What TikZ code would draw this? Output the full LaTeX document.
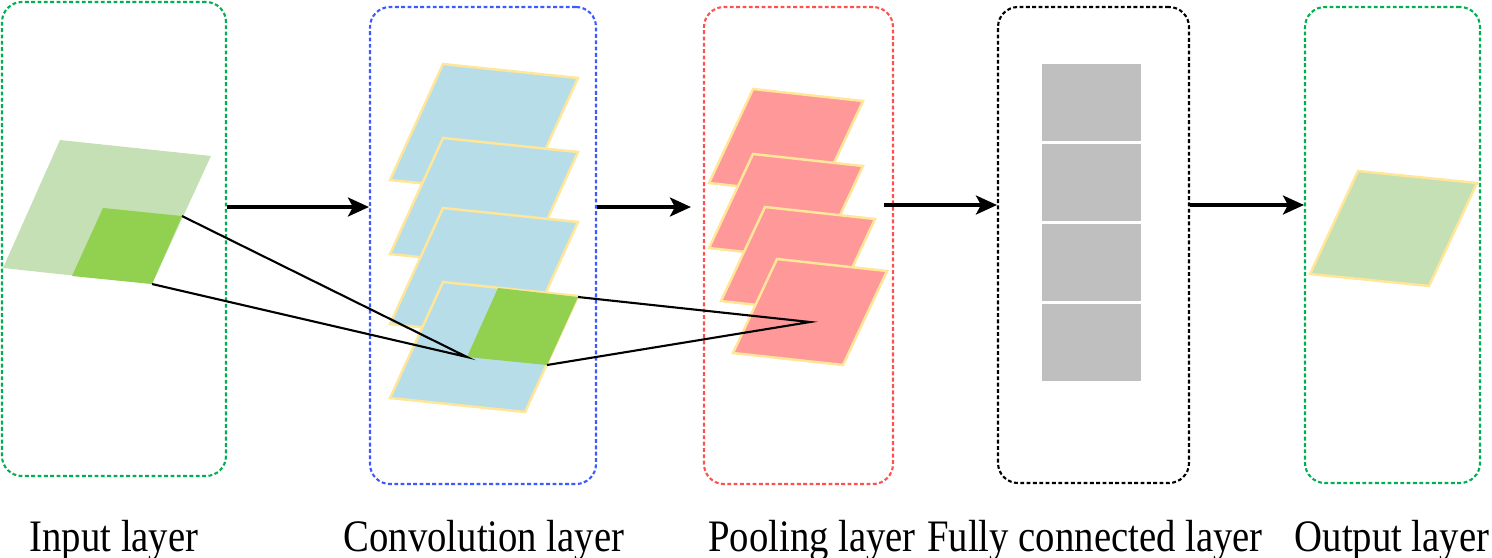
\documentclass[tikz,border=0pt]{standalone}
\usepackage{fontspec}
\newfontfamily\lblfont[FakeStretch=0.86]{Liberation Serif}
\usetikzlibrary{arrows.meta,fit}
\definecolor{boxgreen}{HTML}{00B050}
\definecolor{boxblue}{HTML}{3D5AFE}
\definecolor{boxred}{HTML}{FF5050}
\definecolor{lightgreen}{HTML}{C5E0B4}
\definecolor{darkgreen}{HTML}{92D050}
\definecolor{sheetblue}{HTML}{B7DEE8}
\definecolor{sheetred}{HTML}{FF9999}
\definecolor{sheetedge}{HTML}{FFE699}
\definecolor{fcgrey}{HTML}{BFBFBF}
\tikzset{
  layerbox/.style={rounded corners=0.2cm, line width=0.6pt, dash pattern=on 1.1pt off 0.7pt, inner sep=0pt},
  sheet/.style={line width=0.7pt, draw=sheetedge},
  flow/.style={line width=0.9pt, -{Stealth[length=0.21cm,width=0.19cm,inset=0.05cm]}},
  link/.style={line width=0.6pt},
  lbl/.style={anchor=base, inner sep=0pt, font=\lblfont\fontsize{12.8}{14}\selectfont},
}
\begin{document}
\begin{tikzpicture}[x=0.01cm, y=-0.01cm]
\useasboundingbox (0,0) rectangle (1492,557);
% layer frames
\node[layerbox, draw=boxgreen, fit={(2,2) (226,476)}] (inbox) {};
\node[layerbox, draw=boxblue, fit={(370,7) (596,484)}] (convbox) {};
\node[layerbox, draw=boxred, fit={(704,7) (893,484)}] (poolbox) {};
\node[layerbox, draw=black, fit={(998,7) (1189,483)}] (fcbox) {};
\node[layerbox, draw=boxgreen, fit={(1305,7) (1480,483)}] (outbox) {};
% input
\fill[lightgreen] (60,140) -- (211,156) -- (152,284) -- (3,268) -- cycle;
\fill[darkgreen] (103,208) -- (182,216) coordinate (intr) -- (152,284) coordinate (inbr) -- (72,276) -- cycle;
% convolution
\foreach \y in {64,138,208,282}
  \filldraw[sheet, fill=sheetblue] (443,\y) -- ++(135,14) -- ++(-53,116) -- ++(-135,-14) -- cycle;
\fill[darkgreen] (498,288) -- (578,297) coordinate (convtr) -- (547,365) coordinate (convbr) -- (467,357) coordinate (convapex) -- cycle;
% pooling
\foreach \x/\y in {753/89,753/154,765/207,777/259}
  \filldraw[sheet, fill=sheetred] (\x,\y) -- ++(110,12) -- ++(-44,94) -- ++(-110,-12) -- cycle;
\coordinate (poolapex) at (810,322);
% fully connected
\foreach \y in {64,144,224,304}
  \fill[fcgrey] (1042,\y) rectangle ++(99,77);
% output
\filldraw[sheet, fill=lightgreen] (1358,171) -- ++(119,12) -- ++(-48,103) -- ++(-119,-12) -- cycle;
% receptive fields
\draw[link] (intr) -- (convapex) -- (inbr);
\draw[link] (convtr) -- (poolapex) -- (convbr);
% arrows
\coordinate (upper) at (0,207);
\coordinate (lower) at (0,205);
\draw[flow] (inbox.east |- upper) -- (convbox.west |- upper);
\draw[flow, shorten >=0.12cm] (convbox.east |- upper) -- (poolbox.west |- upper);
\draw[flow, shorten <=-0.1cm] (poolbox.east |- lower) -- (fcbox.west |- lower);
\draw[flow] (fcbox.east |- lower) -- (outbox.west |- lower);
% labels
\node[lbl] (inlbl) at (114,551) {Input layer};
\node[lbl] (convlbl) at (484,551) {Convolution layer};
\node[lbl] (poollbl) at (812,551) {Pooling layer};
\node[lbl] (fclbl) at (1095,551) {Fully connected layer};
\node[lbl] (outlbl) at (1392,551) {Output layer};
\end{tikzpicture}
\end{document}
